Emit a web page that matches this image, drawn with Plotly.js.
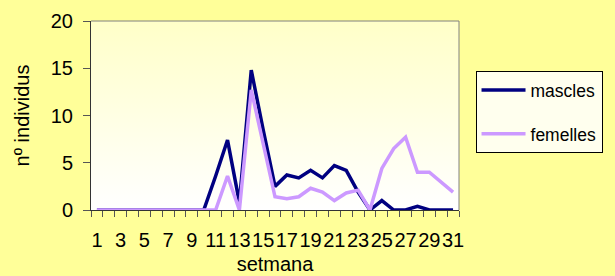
<!DOCTYPE html>
<html>
<head>
<meta charset="utf-8">
<script src="https://cdn.plot.ly/plotly-3.0.1.min.js"></script>
<style>
html,body{margin:0;padding:0;background:#FFFF99;}
#chart{width:615px;height:276px;}
</style>
</head>
<body>
<div id="chart"></div>
<script>
const weeks = ["1","2","3","4","5","6","7","8","9","10","11","12","13","14","15","16","17","18","19","20","21","22","23","24","25","26","27","28","29","30","31"];
const tickLabels = ["1","","3","","5","","7","","9","","11","","13","","15","","17","","19","","21","","23","","25","","27","","29","","31"];
const mascles = [0,0,0,0,0,0,0,0,0,0,3.6,7.4,0.8,14.8,8.5,2.5,3.7,3.4,4.2,3.4,4.7,4.2,1.9,0,1.0,0,0,0.4,0,0,0];
const femelles = [0,0,0,0,0,0,0,0,0,0,0,3.6,0,12.7,7.0,1.4,1.2,1.4,2.3,1.9,1.0,1.8,2.1,0,4.4,6.5,7.7,4.0,4.0,3.0,1.9];

const grad = 'data:image/svg+xml;base64,' + btoa('<svg xmlns="http://www.w3.org/2000/svg" width="10" height="100" preserveAspectRatio="none"><defs><linearGradient id="g" x1="0" y1="0" x2="0" y2="1"><stop offset="0" stop-color="#FFFFC8"/><stop offset="1" stop-color="#FFFFFF"/></linearGradient></defs><rect width="10" height="100" fill="url(#g)"/></svg>');

const font = {family: 'Liberation Sans, Arial, sans-serif', color: '#000000'};
const f = (s) => Object.assign({size: s}, font);

const traces = [
  {x: weeks, y: mascles, name: 'mascles', type: 'scatter', mode: 'lines',
   line: {color: '#000080', width: 3.5}, legendgroup: 'a'},
  {x: weeks, y: femelles, name: 'femelles', type: 'scatter', mode: 'lines',
   line: {color: '#CC99FF', width: 3.5}, legendgroup: 'b'}
];

const layout = {
  width: 615, height: 276,
  paper_bgcolor: '#FFFF99',
  plot_bgcolor: 'rgba(0,0,0,0)',
  margin: {l: 91, r: 145, t: 21, b: 66},
  font: f(20),
  images: [{source: grad, xref: 'paper', yref: 'paper', x: 0, y: 1, sizex: 1, sizey: 1,
            xanchor: 'left', yanchor: 'top', sizing: 'stretch', layer: 'below'}],
  xaxis: {
    type: 'category', range: [-0.5, 30.5],
    tickmode: 'array', tickvals: weeks, ticktext: tickLabels, tickangle: 0,
    tickson: 'boundaries', ticks: 'outside', ticklen: 6, tickcolor: '#555555',
    showline: true, linecolor: '#333333', linewidth: 1,
    showgrid: false, zeroline: false,
    tickfont: f(20), ticklabelstandoff: 12,
    title: {text: 'setmana', font: f(20), standoff: 6}
  },
  yaxis: {
    range: [0, 20], tickmode: 'array', tickvals: [0, 5, 10, 15, 20],
    ticks: 'outside', ticklen: 7, tickcolor: '#555555',
    showline: true, linecolor: '#333333', linewidth: 1,
    showgrid: false, zeroline: false,
    tickfont: f(20), ticklabelstandoff: 6,
    title: {text: 'nº individus', font: f(20), standoff: 15}
  },
  shapes: [
    {type: 'line', xref: 'paper', yref: 'paper', x0: 0, x1: 1, y0: 1, y1: 1, line: {color: '#808080', width: 1}},
    {type: 'line', xref: 'paper', yref: 'paper', x0: 1, x1: 1, y0: 0, y1: 1, line: {color: '#808080', width: 1}}
  ],
  showlegend: true,
  legend: {
    x: 1.39, y: 0.735, xanchor: 'right', yanchor: 'top',
    bgcolor: '#FFFFEE', bordercolor: '#000000', borderwidth: 1,
    font: f(17.5),
    itemwidth: 44, tracegroupgap: 18
  }
};

Plotly.newPlot('chart', traces, layout, {displayModeBar: false, staticPlot: true});
</script>
</body>
</html>
